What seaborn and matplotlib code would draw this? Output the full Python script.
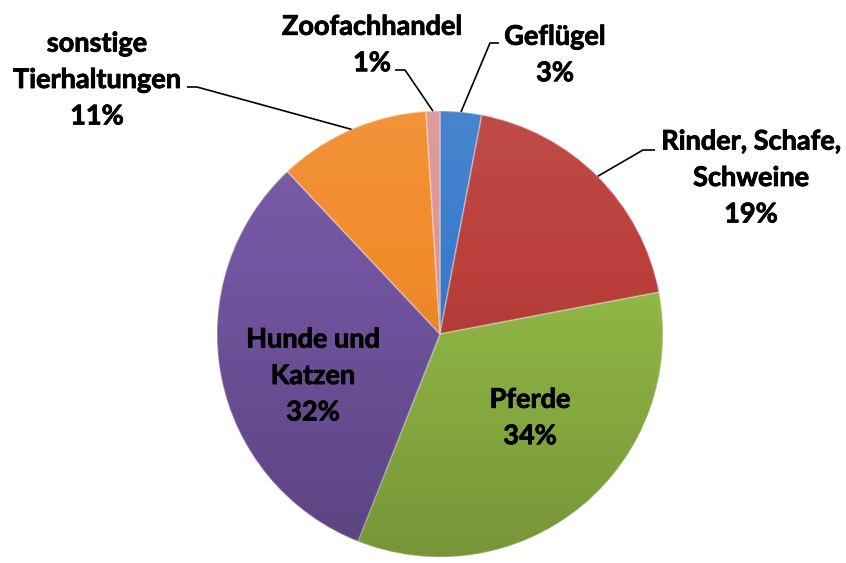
import numpy as np
import matplotlib
matplotlib.use("Agg")
import matplotlib.pyplot as plt
import seaborn as sns
from matplotlib.patches import Circle
import matplotlib.patheffects as pe

# shares per sector, clockwise from 12 o'clock
labels = ["Geflügel", "Rinder, Schafe,\nSchweine", "Pferde",
          "Hunde und\nKatzen", "sonstige\nTierhaltungen", "Zoofachhandel"]
shares = [3, 19, 34, 32, 11, 1]
colors = ["#3a7ccb", "#bb3f3b", "#93ba46", "#7254a0", "#f28b2c", "#da9694"]

sns.set_theme(style="white")
plt.rcParams["font.family"] = ["Lato", "DejaVu Sans"]

W, H = 846, 563
fig = plt.figure(figsize=(W / 100, H / 100), dpi=100)
ax = fig.add_axes([0, 0, 1, 1])

# work in pixel-like coordinates (y pointing down)
cx, cy, R = 440, 334, 223
wedges, _ = ax.pie(shares, colors=colors, startangle=-90, counterclock=True,
                   center=(cx, cy), radius=R,
                   wedgeprops=dict(edgecolor=(1, 1, 1, 0.3), linewidth=1.2))

# light-to-dark vertical shading like the office gradient
t = np.linspace(0, 1, 256)
shade = np.zeros((256, 1, 4))
top = t < 0.35
shade[top, 0, :3] = 1.0
shade[top, 0, 3] = 0.07 * (1 - t[top] / 0.35)
shade[~top, 0, 3] = 0.2 * (t[~top] - 0.35) / 0.65
im = ax.imshow(shade, extent=[cx - R, cx + R, cy + R, cy - R], origin="upper",
               aspect="auto", zorder=3)
im.set_clip_path(Circle((cx, cy), R, transform=ax.transData))

# label block centres and leader elbows (None = label inside the pie)
label_pos = [(555, 55), (751, 178), (530, 418), (313, 376), (97, 80), (372, 45)]
elbows = [((490, 43), (499, 43)), ((643, 150), (655, 150)), None, None,
          ((197, 87), (187, 87)), ((405, 70), (395, 70))]

for w, lab, val, pos, elb in zip(wedges, labels, shares, label_pos, elbows):
    ax.text(pos[0], pos[1], f"{lab}\n{val}%", ha="center", va="center",
            multialignment="center", fontsize=19.5, fontweight="bold",
            color="black", linespacing=1.62, zorder=5,
            path_effects=[pe.withStroke(linewidth=0.6, foreground="black")])
    if elb is not None:
        mid = np.deg2rad((w.theta1 + w.theta2) / 2)
        ax_x = cx + R * np.cos(mid)
        ax_y = cy + R * np.sin(mid)
        ax.plot([ax_x, elb[0][0], elb[1][0]], [ax_y, elb[0][1], elb[1][1]],
                color="black", lw=1.2, zorder=4, solid_capstyle="butt")

ax.set_xlim(0, W)
ax.set_ylim(H, 0)
ax.set_aspect("auto")
ax.axis("off")

fig.savefig("out.png", dpi=100, facecolor="white")
